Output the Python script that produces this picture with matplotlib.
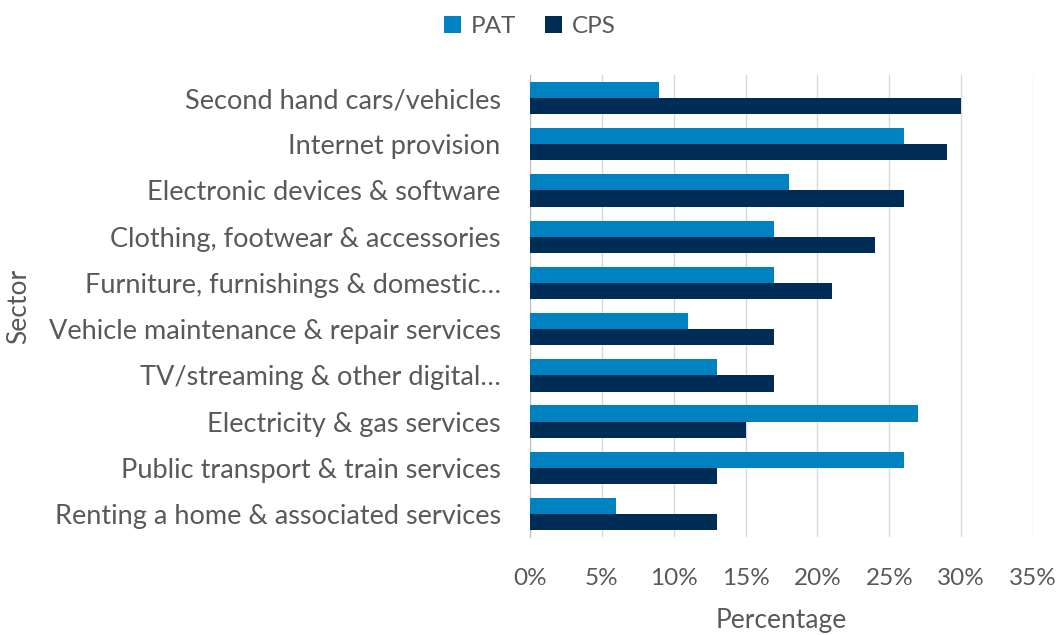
import matplotlib
matplotlib.use("Agg")
import matplotlib.pyplot as plt
import numpy as np
from matplotlib.ticker import FuncFormatter

categories = [
    "Second hand cars/vehicles",
    "Internet provision",
    "Electronic devices & software",
    "Clothing, footwear & accessories",
    "Furniture, furnishings & domestic…",
    "Vehicle maintenance & repair services",
    "TV/streaming & other digital…",
    "Electricity & gas services",
    "Public transport & train services",
    "Renting a home & associated services",
]
pat = [9, 26, 18, 17, 17, 11, 13, 27, 26, 6]
cps = [30, 29, 26, 24, 21, 17, 17, 15, 13, 13]
xticks = [0, 5, 10, 15, 20, 25, 30, 35]

plt.rcParams['font.family'] = ['Lato', 'DejaVu Sans']
txt = "#595959"

fig = plt.figure(figsize=(10.64, 6.35), dpi=100)
ax = fig.add_axes([0.498, 0.154, 0.473, 0.728])

y = np.arange(len(categories))
h = 0.35
ax.barh(y - h/2, pat, height=h, color="#0082C0", label="PAT", zorder=3)
ax.barh(y + h/2, cps, height=h, color="#002D55", label="CPS", zorder=3)

ax.set_ylim(len(categories) - 0.5, -0.5)
ax.set_xlim(0, 35)
ax.set_xticks(xticks)
ax.xaxis.set_major_formatter(FuncFormatter(lambda v, p: f"{v:.0f}%"))
ax.set_yticks(y)
ax.set_yticklabels(categories)
ax.grid(axis="x", color="#D9D9D9", linewidth=1, zorder=0)
for s in ["top", "right", "bottom"]:
    ax.spines[s].set_visible(False)
ax.spines["left"].set_color("#BFBFBF")
ax.tick_params(axis="y", length=0, pad=21, labelsize=19.5, labelcolor=txt)
ax.tick_params(axis="x", length=0, pad=22, labelsize=17.5, labelcolor=txt)
ax.set_xlabel("Percentage", fontsize=19, color=txt, labelpad=14)
ax.set_ylabel("Sector", fontsize=19, color=txt)
ax.yaxis.set_label_coords(-0.99, 0.5)

fig.legend(loc="upper center", bbox_to_anchor=(0.498, 1.01), ncol=2, frameon=False,
           fontsize=17.5, labelcolor=txt, handlelength=0.7, handleheight=0.7,
           columnspacing=1.2, handletextpad=0.4)

fig.savefig("out.png", dpi=100)
